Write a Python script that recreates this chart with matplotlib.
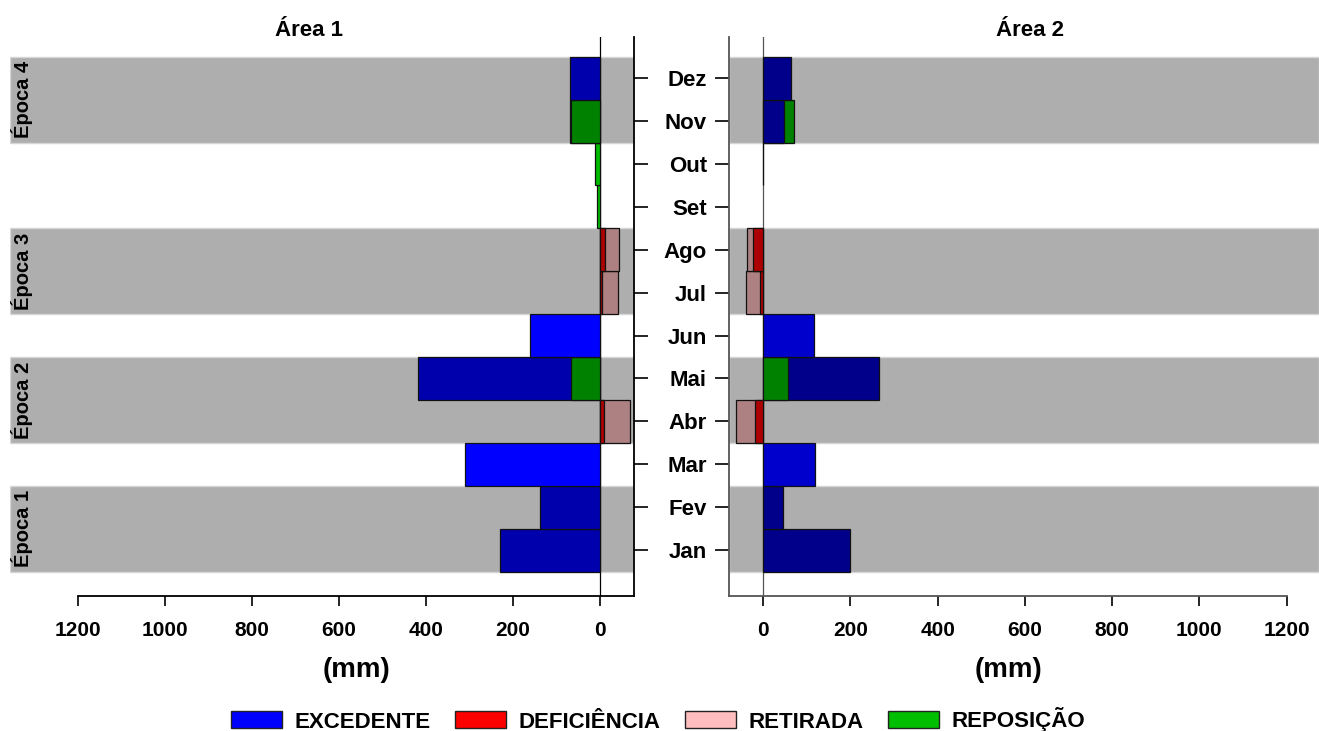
import numpy as np
import matplotlib
matplotlib.use("Agg")
import matplotlib.pyplot as plt
from matplotlib.patches import Patch
from matplotlib.transforms import blended_transform_factory

plt.rcParams['font.family'] = ['Liberation Sans', 'DejaVu Sans']
plt.rcParams['font.weight'] = 'bold'

months = ['Jan', 'Fev', 'Mar', 'Abr', 'Mai', 'Jun', 'Jul', 'Ago', 'Set', 'Out', 'Nov', 'Dez']

# water balance terms (mm); deficit and withdrawal are negative
a1_exc = [230, 138, 310, 0, 418, 160, 0, 0, 0, 0, 70, 69]
a1_def = [0, 0, 0, -8, 0, 0, -4, -11, 0, 0, 0, 0]
a1_ret = [0, 0, 0, -69, 0, 0, -42, -44, 0, 0, 0, 0]
a1_rep = [0, 0, 0, 0, 67, 0, 0, 0, 8, 12, 67, 0]

a2_exc = [200, 45, 119, 0, 265, 117, 0, 0, 0, 1, 48, 65]
a2_def = [0, 0, 0, -18, 0, 0, -7, -22, 0, 0, 0, 0]
a2_ret = [0, 0, 0, -61, 0, 0, -40, -36, 0, 0, 0, 0]
a2_rep = [0, 0, 0, 0, 58, 0, 0, 0, 0, 0, 72, 0]

# seasons: first month index of each two-month band
epocas = ['Época 1', 'Época 2', 'Época 3', 'Época 4']
epoca_start = [0, 3, 6, 10]

c_exc1 = (0, 0, 255)
c_exc2 = (0, 0, 205)
c_def = (255, 0, 0)
c_ret = (255, 190, 190)
c_rep = (0, 190, 0)
band_gray = '#aeaeae'


def in_band(i):
    return any(s <= i <= s + 1 for s in epoca_start)


def shade(rgb, dark):
    f = 0.68 if dark else 1.0
    return tuple(v * f / 255 for v in rgb)


def draw_panel(ax, exc, dfc, ret, rep, c_exc, line_col):
    for s in epoca_start:
        ax.axhspan(s - 0.5, s + 1.5, color=band_gray, ec='#d6d6d6', lw=1, zorder=0)
    ax.axvline(0, color=line_col, lw=0.9, zorder=1)
    z = 2
    for i in range(12):
        items = [(exc[i], c_exc), (rep[i], c_rep), (ret[i], c_ret), (dfc[i], c_def)]
        items = [it for it in items if it[0] != 0]
        items.sort(key=lambda t: -abs(t[0]))
        for val, col in items:
            ax.barh(i, val, height=1.0, color=shade(col, in_band(i)),
                    edgecolor='#111111', linewidth=0.9, zorder=z)
            z += 1
    ax.set_ylim(-1.07, 11.96)
    ax.set_yticks(range(12))
    ax.set_xticks(range(0, 1201, 200))
    ax.tick_params(axis='x', length=7, width=1.2, pad=11, labelsize=15)
    ax.tick_params(axis='y', length=10, width=1.2, direction='out')
    for lab in ax.get_xticklabels():
        lab.set_fontweight('bold')
    ax.spines['top'].set_visible(False)


fig = plt.figure(figsize=(13.19, 7.31), dpi=100)
W, H = 1319, 731
ax1 = fig.add_axes([10 / W, 1 - 596 / H, 624 / W, 559 / H])
ax2 = fig.add_axes([729 / W, 1 - 596 / H, 590 / W, 559 / H])

draw_panel(ax1, a1_exc, a1_def, a1_ret, a1_rep, c_exc1, 'black')
ax1.set_xlim(1356, -78)
ax1.yaxis.tick_right()
ax1.set_yticklabels([])
ax1.spines['left'].set_visible(False)
ax1.spines['right'].set_linewidth(1.3)
ax1.spines['bottom'].set_bounds(-78, 1200)
ax1.spines['bottom'].set_linewidth(1.3)

draw_panel(ax2, a2_exc, a2_def, a2_ret, a2_rep, c_exc2, '#555555')
ax2.set_xlim(-78, 1274)
ax2.set_yticklabels(months, fontsize=16, fontweight='bold')
ax2.tick_params(axis='y', pad=6)
ax2.spines['right'].set_visible(False)
ax2.spines['left'].set_color('#555555')
ax2.spines['left'].set_linewidth(1.3)
ax2.spines['bottom'].set_bounds(-78, 1200)
ax2.spines['bottom'].set_color('#555555')
ax2.spines['bottom'].set_linewidth(1.3)

trans = blended_transform_factory(ax1.transAxes, ax1.transData)
for name, s in zip(epocas, epoca_start):
    ax1.text(0.019, s + 0.5, name, transform=trans, rotation=90, ha='center',
             va='center', fontsize=14.5, fontweight='bold')

fig.text(309 / W, 1 - 31 / H, 'Área 1', ha='center', va='center', fontsize=16, fontweight='bold')
fig.text(1030 / W, 1 - 31 / H, 'Área 2', ha='center', va='center', fontsize=16, fontweight='bold')
fig.text(356 / W, 1 - 670 / H, '(mm)', ha='center', va='center', fontsize=20, fontweight='bold')
fig.text(1008 / W, 1 - 670 / H, '(mm)', ha='center', va='center', fontsize=20, fontweight='bold')

handles = [Patch(facecolor=shade(c, False), edgecolor='#222222', label=l)
           for c, l in [(c_exc1, 'EXCEDENTE'), (c_def, 'DEFICIÊNCIA'),
                        (c_ret, 'RETIRADA'), (c_rep, 'REPOSIÇÃO')]]
leg = fig.legend(handles=handles, loc='center', bbox_to_anchor=(658 / W, 1 - 720 / H),
                 ncol=4, frameon=False, fontsize=16, handlelength=2.3, handleheight=0.8,
                 handletextpad=0.55, columnspacing=1.1, borderpad=0)
for t in leg.get_texts():
    t.set_fontweight('bold')

fig.savefig('out.png', dpi=100)
